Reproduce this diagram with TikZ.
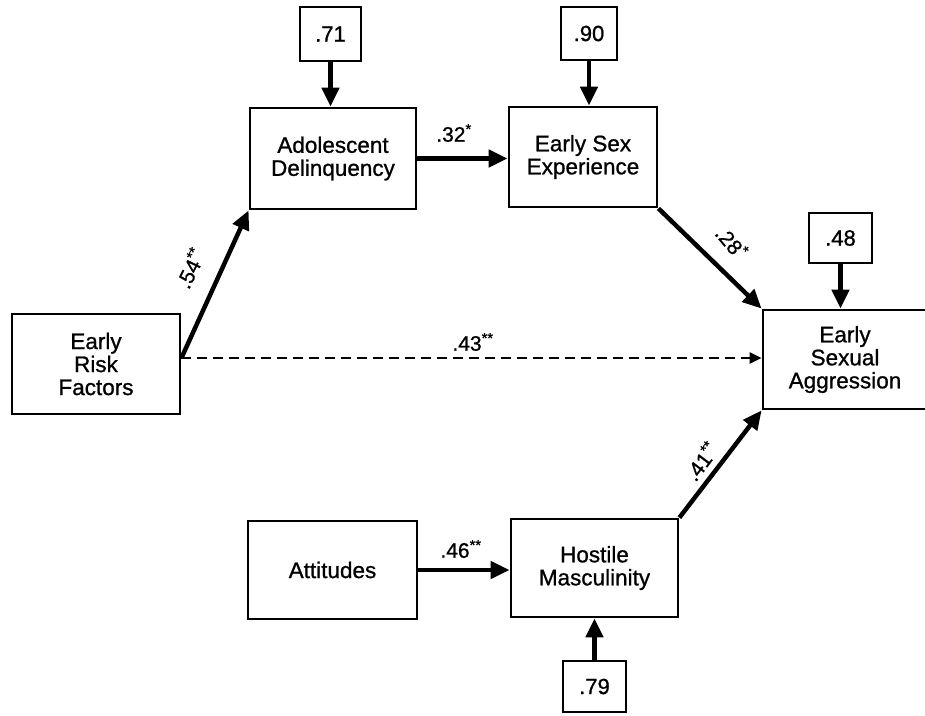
\documentclass[tikz,border=0pt]{standalone}
\usepackage{fontspec}
\setmainfont{Liberation Sans}
\newfontfamily\diagfont[FakeBold=0.9]{Liberation Sans}
\usetikzlibrary{arrows.meta}
\begin{document}
\begin{tikzpicture}[x=1pt,y=-1pt,
  box/.style={draw,line width=2.8pt,rectangle,inner sep=0pt,align=center,
    font=\diagfont\fontsize{22.5}{23}\selectfont},
  errbox/.style={box,font=\diagfont\fontsize{22}{23}\selectfont},
  path/.style={line width=4.5pt,-{Triangle[length=19pt,width=17pt]}},
  dpath/.style={line width=2.6pt,dash pattern=on 10pt off 6pt,-{Triangle[length=12pt,width=11pt]}},
  coef/.style={font=\diagfont\fontsize{21}{22}\selectfont,inner sep=0pt}]
\useasboundingbox[fill=white] (0,0) rectangle (925,715);

% variables
\node[box,minimum width=168pt,minimum height=100pt] (erf) at (96,364) {Early\\Risk\\Factors};
\node[box,minimum width=166pt,minimum height=101pt] (ad)  at (333,158.5) {Adolescent\\Delinquency};
\node[box,minimum width=148pt,minimum height=100pt] (ese) at (583,157) {Early Sex\\Experience};
\node[box,minimum width=164pt,minimum height=99pt]  (esa) at (845,359.5) {Early\\Sexual\\Aggression};
\node[box,minimum width=169pt,minimum height=98pt]  (att) at (332.5,570) {Attitudes};
\node[box,minimum width=167pt,minimum height=98pt]  (hm)  at (594.5,568) {Hostile\\Masculinity};

% disturbance terms
\node[errbox,minimum width=61pt,minimum height=54pt] (d71) at (330.5,34) {.71};
\node[errbox,minimum width=56pt,minimum height=53pt] (d90) at (589,33.5) {.90};
\node[errbox,minimum width=63pt,minimum height=50pt] (d48) at (840.5,238) {.48};
\node[errbox,minimum width=63pt,minimum height=51pt] (d79) at (594.5,686.5) {.79};

\draw[path] (d71.south) -- (d71.south |- ad.north);
\draw[path] (d90.south) -- (d90.south |- ese.north);
\draw[path] (d48.south) -- (d48.south |- esa.north);
\draw[path] (d79.north) -- (d79.north |- hm.south);

% structural paths
\coordinate (src) at ([yshift=6pt]erf.east);
\draw[path] (src) -- (ad.south west);
\draw[dpath] (src) -- (src -| esa.west);
\draw[path] (ad.east) -- (ad.east -| ese.west);
\draw[path] (ese.south east) -- (esa.north west);
\draw[path] (att.east) -- (att.east -| hm.west);
\draw[path] (hm.north east) -- (esa.south west);

% path coefficients
\node[coef,rotate=64] (c54) at (190,268) {.54\textsuperscript{**}};
\node[coef] (c43) at (473,342) {.43\textsuperscript{**}};
\node[coef] (c32) at (454,133) {.32\textsuperscript{*}};
\node[coef,rotate=-50] (c28) at (732,242) {.28\textsuperscript{*}};
\node[coef] (c46) at (461,549) {.46\textsuperscript{**}};
\node[coef,rotate=53] (c41) at (701,461) {.41\textsuperscript{**}};
\end{tikzpicture}
\end{document}
